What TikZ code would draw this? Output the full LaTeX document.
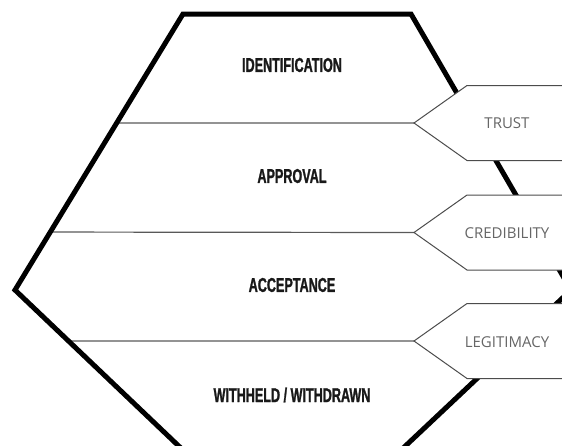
\documentclass[tikz,border=0pt]{standalone}
\usepackage{fontspec}
\setmainfont{Open Sans}
\newfontfamily\bandfont{Liberation Sans}[FakeStretch=0.63, FakeBold=1.2]
\usetikzlibrary{calc}

\begin{document}
\begin{tikzpicture}[
    x=1pt, y=-1pt,
    hexline/.style={line width=5pt, line join=miter, black},
    bandline/.style={line width=1.2pt, black!65},
    tagbox/.style={draw=black!70, line width=1pt, fill=white},
    bandlabel/.style={font=\bandfont\bfseries\fontsize{20pt}{20pt}\selectfont, text=black!90, inner sep=0pt},
    taglabel/.style={font=\fontsize{15pt}{15pt}\selectfont, text=black!60, inner sep=0pt}
]
    \useasboundingbox (0,0) rectangle (562,445);
    \clip (0,0) rectangle (562,445);

    % Hexagon corners
    \coordinate (tl) at (183,14);
    \coordinate (tr) at (411,14);
    \coordinate (rv) at (571,290);
    \coordinate (br) at (399,452);
    \coordinate (bl) at (185,452);
    \coordinate (lv) at (15,290);

    % Tips of the tags
    \coordinate (trusttip) at (414,123);
    \coordinate (credtip) at (414,232.5);
    \coordinate (legtip) at (414,341);

    % Band dividers (thin, grey)
    \draw[bandline] ($(tl)!0.395!(lv)$) -- (trusttip);
    \draw[bandline] ($(tl)!0.79!(lv)$) -- (credtip);
    \draw[bandline] ($(lv)!0.315!(bl)$) -- (legtip);

    % Outline (thick)
    \draw[hexline] (tl) -- (tr) -- (rv) -- (br) -- (bl) -- (lv) -- cycle;

    % Tags
    \foreach \t in {trusttip,credtip,legtip}
        \draw[tagbox] (\t) -- ++(53,-37.5) -- ++(120,0) -- ++(0,75) -- ++(-120,0) -- cycle;

    % Labels
    \node[bandlabel] (ident) at (292,65) {IDENTIFICATION};
    \node[bandlabel] (approval) at (292,176) {APPROVAL};
    \node[bandlabel] (accept) at (292,285) {ACCEPTANCE};
    \node[bandlabel] (withheld) at (292,395) {WITHHELD / WITHDRAWN};

    \node[taglabel] (trust) at (507,123) {TRUST};
    \node[taglabel] (cred) at (507,233) {CREDIBILITY};
    \node[taglabel] (legit) at (507,342) {LEGITIMACY};
\end{tikzpicture}
\end{document}
